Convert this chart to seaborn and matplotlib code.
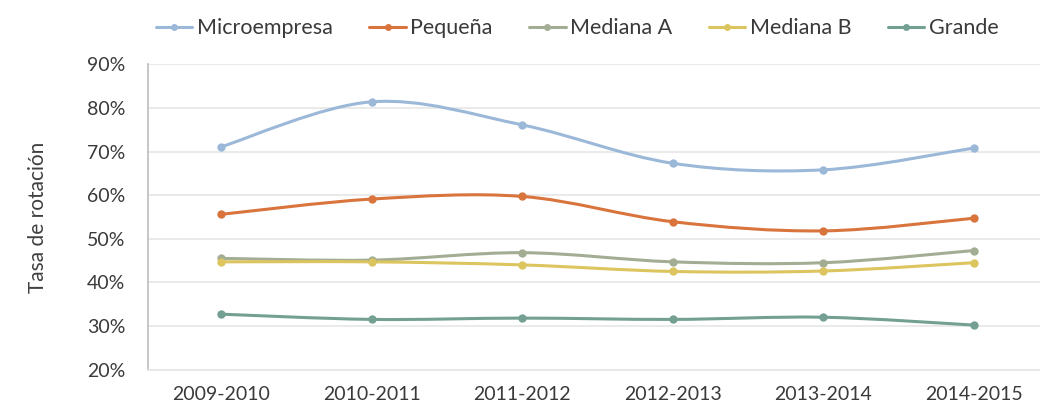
import numpy as np
import pandas as pd
import matplotlib
matplotlib.use("Agg")
import matplotlib.pyplot as plt
from matplotlib.path import Path
from matplotlib.patches import PathPatch
from matplotlib.lines import Line2D
from matplotlib.ticker import FuncFormatter
import seaborn as sns

periods = ["2009-2010", "2010-2011", "2011-2012", "2012-2013", "2013-2014", "2014-2015"]
microempresa = [71.1, 81.4, 76.1, 67.3, 65.8, 70.8]
pequena = [55.6, 59.1, 59.7, 53.9, 51.8, 54.7]
mediana_a = [45.5, 45.1, 46.8, 44.7, 44.5, 47.3]
mediana_b = [44.7, 44.7, 44.0, 42.5, 42.6, 44.5]
grande = [32.7, 31.5, 31.8, 31.5, 32.0, 30.2]

series_names = ["Microempresa", "Pequeña", "Mediana A", "Mediana B", "Grande"]
series_values = [microempresa, pequena, mediana_a, mediana_b, grande]
colors = ["#9bb8d8", "#d8743c", "#a3ad93", "#dcc55e", "#73a093"]

sns.set_theme(style="white")
plt.rcParams["font.family"] = ["Lato", "DejaVu Sans"]

rows = []
for name, vals in zip(series_names, series_values):
    for i, (p, v) in enumerate(zip(periods, vals)):
        rows.append({"period": p, "idx": i, "serie": name, "valor": v})
df = pd.DataFrame(rows)

fig = plt.figure(figsize=(10.4, 4.07), dpi=100)
ax = fig.add_axes([0.142, 0.092, 0.858, 0.750])

sns.lineplot(data=df, x="idx", y="valor", hue="serie", hue_order=series_names,
             palette=colors, marker="o", markersize=6, markeredgewidth=0,
             linewidth=2.2, ax=ax, legend=False, sort=False)

# Excel-style smoothed lines: replace straight segments with Bezier curves
for line, col in zip(list(ax.lines), colors):
    x = np.asarray(line.get_xdata(), dtype=float)
    y = np.asarray(line.get_ydata(), dtype=float)
    line.set_linestyle("none")
    verts = [(x[0], y[0])]
    codes = [Path.MOVETO]
    n = len(x)
    t = 1.0 / 6.0
    for i in range(n - 1):
        x0, y0 = (x[i - 1], y[i - 1]) if i > 0 else (x[i], y[i])
        x3, y3 = (x[i + 2], y[i + 2]) if i + 2 < n else (x[i + 1], y[i + 1])
        c1 = (x[i] + (x[i + 1] - x0) * t, y[i] + (y[i + 1] - y0) * t)
        c2 = (x[i + 1] - (x3 - x[i]) * t, y[i + 1] - (y3 - y[i]) * t)
        verts += [c1, c2, (x[i + 1], y[i + 1])]
        codes += [Path.CURVE4] * 3
    ax.add_patch(PathPatch(Path(verts, codes), facecolor="none", edgecolor=col,
                           linewidth=2.2, zorder=line.get_zorder() - 0.1))

ax.set_xlim(-0.49, 5.44)
ax.set_ylim(20, 90)
ax.set_xticks(range(len(periods)))
ax.set_xticklabels(periods)
ax.set_yticks(range(20, 91, 10))
ax.yaxis.set_major_formatter(FuncFormatter(lambda v, p: f"{int(v)}%"))
ax.set_xlabel("")
ax.set_ylabel("Tasa de rotación", fontsize=15, color="#404040", labelpad=28)

ax.grid(axis="y", color="#e6e6e6", linewidth=1.2)
ax.grid(axis="x", visible=False)
for s in ["top", "right"]:
    ax.spines[s].set_visible(False)
ax.spines["left"].set_color("#bfbfbf")
ax.spines["bottom"].set_color("#e6e6e6")
ax.tick_params(axis="both", length=0, labelsize=14, labelcolor="#3a3a3a")
ax.tick_params(axis="x", pad=12)
ax.tick_params(axis="y", pad=16)

handles = [Line2D([0], [0], color=c, marker="o", markersize=5, linewidth=2.2,
                  markeredgewidth=0) for c in colors]
fig.legend(handles, series_names, loc="center", bbox_to_anchor=(0.555, 0.93),
           ncol=5, frameon=False, fontsize=15.5, handlelength=1.7,
           handletextpad=0.2, columnspacing=1.7, labelcolor="#3a3a3a")

fig.savefig("out.png", dpi=100)
